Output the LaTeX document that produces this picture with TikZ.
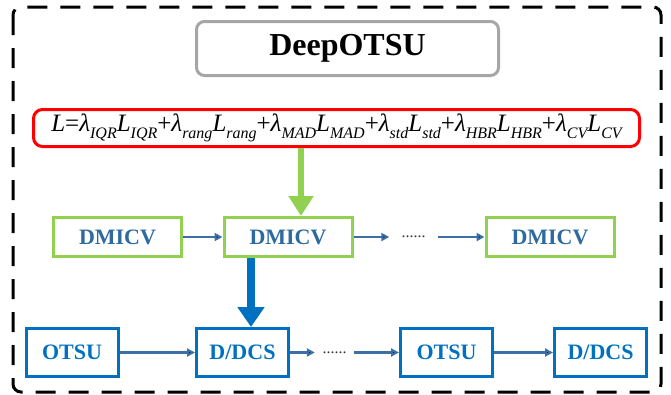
\documentclass[tikz,border=0pt]{standalone}
\usepackage{fontspec}
\setmainfont{Liberation Serif}
\usepackage{tikz}
\usetikzlibrary{arrows.meta,positioning}

\definecolor{lgreen}{HTML}{92D050}
\definecolor{dmtext}{HTML}{2E6AA0}
\definecolor{obox}{HTML}{0070C0}
\definecolor{steel}{HTML}{3B6FA5}
\definecolor{tgray}{HTML}{A6A6A6}

% one weighted term of the loss
\newcommand{\wterm}[1]{\textit{λ}\lsub{#1}\textit{L}\lsub{#1}}
\newcommand{\lsub}[1]{\raisebox{-0.28em}{\fontsize{16}{16}\selectfont\itshape #1}}

\begin{document}
\begin{tikzpicture}[x=1pt,y=-1pt,on grid,>={Triangle[length=8pt,width=8pt]}]
  \tikzstyle{titlebox}=[draw=tgray,line width=3pt,rounded corners=8pt,minimum width=302pt,minimum height=54pt,font=\fontsize{32}{32}\selectfont\bfseries]
  \tikzstyle{lossbox}=[draw=red,line width=3pt,rounded corners=9pt,minimum width=606pt,minimum height=37pt,inner sep=0pt,font=\fontsize{25}{25}\selectfont]
  \tikzstyle{greenbox}=[draw=lgreen,line width=3pt,minimum width=128pt,minimum height=39pt,text=dmtext,font=\fontsize{22}{22}\selectfont\bfseries]
  \tikzstyle{bluebox}=[draw=obox,line width=3pt,minimum width=92pt,minimum height=48pt,text=obox,font=\fontsize{22}{22}\selectfont\bfseries]
  \tikzstyle{dotsnode}=[inner xsep=12pt,inner ysep=0pt,text=black!80,font=\fontsize{16}{16}\selectfont]
  \tikzstyle{arrowline}=[draw=steel,line width=2.5pt]

  \useasboundingbox (0,0) rectangle (671,394);
  % dashed frame round everything
  \draw[line width=3pt,dash pattern=on 20pt off 13pt,rounded corners=8pt] (13,7) rectangle (661,392);

  \node[titlebox] (title) at (347.5,48.5) {DeepOTSU};
  \node[lossbox] (loss) at (336.5,128)
    {\textit{L}=\wterm{IQR}+\wterm{rang}+\wterm{MAD}+\wterm{std}+\wterm{HBR}+\wterm{CV}};

  % DMICV chain
  \node[greenbox] (dm_1) at (117.5,237) {DMICV};
  \node[greenbox] (dm_2) [right=170.5pt of dm_1] {DMICV};
  \node[dotsnode] (dots_1) [right=125.5pt of dm_2] {......};
  \node[greenbox] (dm_3) [right=136.5pt of dots_1] {DMICV};

  % OTSU / D/DCS chain
  \node[bluebox] (ot_1) at (72,352.5) {OTSU};
  \node[bluebox] (dd_1) [right=170.5pt of ot_1] {D/DCS};
  \node[dotsnode,inner xsep=7.5pt] (dots_2) [right=92pt of dd_1] {......};
  \node[bluebox] (ot_2) [right=112pt of dots_2] {OTSU};
  \node[bluebox] (dd_2) [right=154pt of ot_2] {D/DCS};

  \path[->,arrowline]
    (dm_1) edge (dm_2)
    (dm_2) edge (dots_1)
    (dots_1) edge (dm_3)
    (ot_1) edge (dd_1)
    (dd_1) edge (dots_2)
    (dots_2) edge (ot_2)
    (ot_2) edge (dd_2);

  % loss feeds the DMICV chain, DMICV feeds D/DCS
  \draw[lgreen,line width=6pt,-{Triangle[length=20pt,width=24pt]}]
    ([xshift=13pt]dm_2.north |- loss.south) -- ([xshift=13pt]dm_2.north);
  \draw[obox,line width=8pt,-{Triangle[length=20pt,width=26pt]}]
    ([xshift=-37pt]dm_2.south) -- ([xshift=-37pt]dm_2.south |- dd_1.north);
\end{tikzpicture}
\end{document}
